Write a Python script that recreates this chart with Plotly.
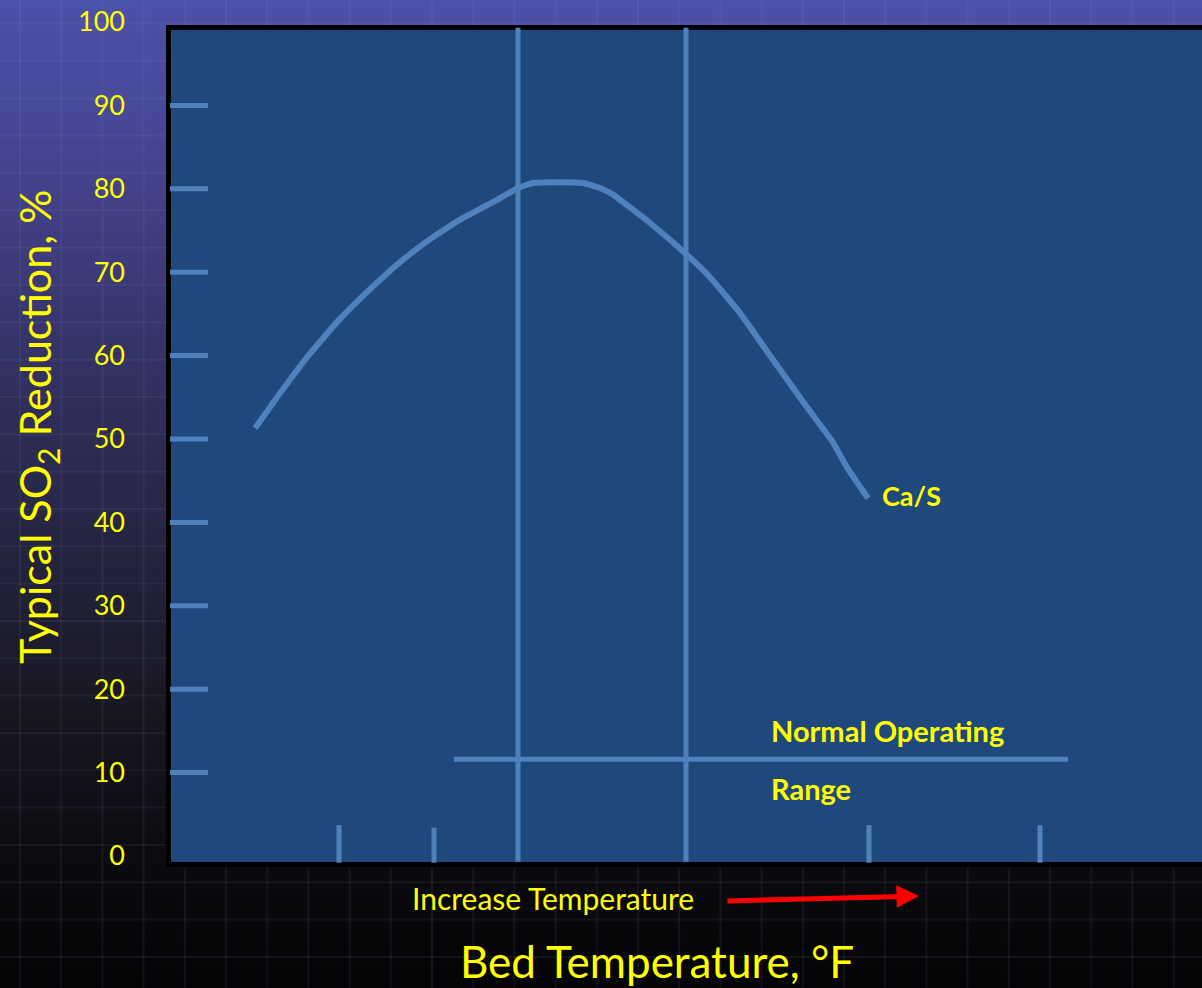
import plotly.graph_objects as go

# ---- data (relative temperature units on x, percent on y) ----
curve_x = [8.4, 10.9, 13.6, 16.9, 20.2, 22.6, 25.6, 28.9, 32.2, 34.7, 36.2, 38.6,
           41.2, 42.9, 44.2, 47.9, 51.4, 53.9, 56.9, 60.2, 63.6, 66.2, 67.6, 69.7]
curve_y = [51.3, 55.5, 59.8, 64.4, 68.3, 70.9, 73.7, 76.3, 78.4, 80.1, 80.7, 80.8,
           80.7, 80.1, 79.3, 75.9, 72.3, 69.4, 65.1, 59.5, 53.8, 49.6, 46.6, 42.9]
curve_label = "Ca/S"

y_tick_vals = [0, 10, 20, 30, 40, 50, 60, 70, 80, 90, 100]
y_marks = [10, 20, 30, 40, 50, 60, 70, 80, 90]
x_marks_short = [16.8, 26.3, 69.8, 86.9]
x_marks_short_top = [3.7, 3.4, 3.7, 3.7]
optimum_bounds = [34.7, 51.5]
range_x = [28.3, 89.7]
range_y = 11.6

PANEL = "#1F497D"
LINE = "#4F81BD"
YELLOW = "#FFFF00"
FONT = "Lato"

W, H = 1202, 988
# axis scaling: x = (px - 171) / 10, y = (856 - py) / 8.34
X_RANGE = [(0 - 171) / 10, (W - 171) / 10]
Y_RANGE = [(856 - H) / 8.34, (856 - 0) / 8.34]

fig = go.Figure()

# ---- background: vertical gradient with faint grid ----
stops = [(0, (76, 82, 168)), (120, (71, 72, 152)), (250, (62, 60, 125)),
         (400, (48, 47, 92)), (550, (36, 36, 64)), (700, (24, 24, 36)),
         (850, (12, 12, 16)), (988, (4, 4, 6))]


def grad(py):
    for (a, ca), (b, cb) in zip(stops[:-1], stops[1:]):
        if a <= py <= b:
            t = (py - a) / (b - a)
            return tuple(round(ca[i] + (cb[i] - ca[i]) * t) for i in range(3))
    return stops[-1][1]


shapes = []
band = 4
for py in range(0, H, band):
    r, g, b = grad(py + band / 2)
    shapes.append(dict(type="rect", xref="paper", yref="paper", layer="below",
                       x0=0, x1=1, y0=1 - (py + band) / H, y1=1 - py / H,
                       line=dict(width=0), fillcolor=f"rgb({r},{g},{b})"))
k = 0
while 20 + 41.2 * k < W:
    gx = (20 + 41.2 * k) / W
    shapes.append(dict(type="line", xref="paper", yref="paper", layer="below",
                       x0=gx, x1=gx, y0=0, y1=1,
                       line=dict(color="rgba(170,170,210,0.08)", width=2)))
    k += 1
k = -1
while 61 + 37.33 * k < H:
    gy = 1 - (61 + 37.33 * k) / H
    shapes.append(dict(type="line", xref="paper", yref="paper", layer="below",
                       x0=0, x1=1, y0=gy, y1=gy,
                       line=dict(color="rgba(170,170,210,0.08)", width=2)))
    k += 1

# plot panel
shapes.append(dict(type="rect", xref="paper", yref="paper", layer="below",
                   x0=168.5 / W, x1=1.02, y0=1 - 864.5 / H, y1=1 - 27.5 / H,
                   line=dict(color="black", width=5), fillcolor=PANEL))

# ---- marks ----
# short tick marks along the left edge
tx, ty = [], []
for v in y_marks:
    tx += [-0.1, 3.7, None]
    ty += [v, v, None]
fig.add_trace(go.Scatter(x=tx, y=ty, mode="lines", line=dict(color=LINE, width=5),
                         hoverinfo="skip", showlegend=False))

# short tick marks along the bottom edge
bx, by = [], []
for v, top in zip(x_marks_short, x_marks_short_top):
    bx += [v, v, None]
    by += [-0.8, top, None]
fig.add_trace(go.Scatter(x=bx, y=by, mode="lines", line=dict(color=LINE, width=5),
                         hoverinfo="skip", showlegend=False))

# vertical boundaries of the optimum band
vx, vy = [], []
for v in optimum_bounds:
    vx += [v, v, None]
    vy += [-0.7, 99.3, None]
fig.add_trace(go.Scatter(x=vx, y=vy, mode="lines", line=dict(color=LINE, width=5),
                         hoverinfo="skip", showlegend=False))

# normal operating range line
fig.add_trace(go.Scatter(x=range_x, y=[range_y, range_y], mode="lines",
                         line=dict(color=LINE, width=5),
                         hoverinfo="skip", showlegend=False))

# SO2 reduction curve
fig.add_trace(go.Scatter(x=curve_x, y=curve_y, mode="lines",
                         line=dict(color=LINE, width=6, shape="spline", smoothing=0.4),
                         hoverinfo="skip", showlegend=False))

annotations = [
    dict(x=curve_x[-1], y=curve_y[-1], xref="x", yref="y", text=f"<b>{curve_label}</b>",
         showarrow=False, xanchor="left", yanchor="middle", xshift=12, yshift=3,
         font=dict(family=FONT, size=27, color=YELLOW)),
    dict(x=59.8, y=range_y, xref="x", yref="y", text="<b>Normal Operating</b>",
         showarrow=False, xanchor="left", yanchor="middle", yshift=29,
         font=dict(family=FONT, size=29, color=YELLOW)),
    dict(x=59.8, y=range_y, xref="x", yref="y", text="<b>Range</b>",
         showarrow=False, xanchor="left", yanchor="middle", yshift=-29,
         font=dict(family=FONT, size=29, color=YELLOW)),
    dict(x=552.5 / W, y=1 - 898 / H, xref="paper", yref="paper",
         text="Increase Temperature", showarrow=False,
         xanchor="center", yanchor="middle",
         font=dict(family=FONT, size=30, color=YELLOW)),
    dict(x=74.8, y=-4.8, ax=55.5, ay=-5.4, xref="x", yref="y", axref="x", ayref="y",
         text="", showarrow=True, arrowhead=2, arrowsize=0.9, arrowwidth=5,
         arrowcolor="#FF0000", standoff=0),
    dict(x=657 / W, y=0, xref="paper", yref="paper",
         text="Bed Temperature, °F", showarrow=False,
         xanchor="center", yanchor="bottom", borderpad=0,
         font=dict(family=FONT, size=44, color=YELLOW)),
    dict(x=37 / W, y=1 - 427 / H, xref="paper", yref="paper",
         text="Typical SO<sub>2</sub> Reduction, %", showarrow=False, textangle=-90,
         xanchor="center", yanchor="middle",
         font=dict(family=FONT, size=43, color=YELLOW)),
]

fig.update_layout(
    width=W, height=H,
    margin=dict(l=0, r=0, t=0, b=0),
    paper_bgcolor="black", plot_bgcolor="rgba(0,0,0,0)",
    shapes=shapes, annotations=annotations, showlegend=False,
    xaxis=dict(range=X_RANGE, domain=[0, 1], visible=False, fixedrange=True),
    yaxis=dict(range=Y_RANGE, domain=[0, 1], anchor="free", position=125 / W,
               tickvals=y_tick_vals, ticks="", showline=False, showgrid=False,
               zeroline=False, tickfont=dict(family=FONT, size=27, color=YELLOW),
               fixedrange=True),
)

fig.write_html("out.html")
